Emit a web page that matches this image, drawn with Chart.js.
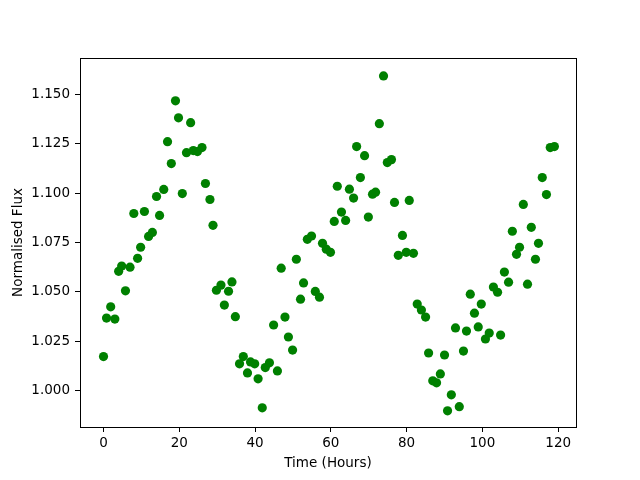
<!DOCTYPE html>
<html>
<head>
<meta charset="utf-8">
<script src="https://cdn.jsdelivr.net/npm/chart.js@4/dist/chart.umd.min.js"></script>
<style>
  html, body { margin: 0; padding: 0; background: #ffffff; }
  #wrap { width: 640px; height: 480px; position: relative; }
</style>
</head>
<body>
<div id="wrap"><canvas id="chart" width="640" height="480"></canvas></div>
<script>
// Valeurs
const timeHours = [
  0.0, 0.8, 1.9, 3.0, 4.0, 4.8, 5.8, 7.0, 8.0, 9.0,
  9.8, 10.8, 11.9, 12.9, 14.0, 14.8, 15.9, 16.9, 17.9, 19.0,
  19.8, 20.8, 21.9, 23.0, 23.7, 24.8, 26.0, 26.9, 28.1, 28.9,
  29.8, 31.0, 31.9, 33.0, 33.9, 34.8, 35.9, 36.9, 38.0, 38.8,
  39.9, 40.8, 41.9, 42.7, 43.8, 44.9, 45.9, 46.9, 47.9, 48.8,
  49.9, 50.9, 52.0, 52.8, 53.8, 54.9, 55.9, 57.0, 57.8, 58.8,
  59.9, 60.9, 61.7, 62.8, 63.9, 64.9, 66.0, 66.8, 67.8, 68.9,
  69.9, 71.0, 71.8, 72.8, 73.9, 74.9, 76.0, 76.8, 77.8, 78.9,
  79.9, 80.7, 81.8, 82.8, 83.9, 85.0, 85.8, 86.9, 87.9, 88.9,
  90.0, 90.8, 91.8, 92.9, 93.9, 95.0, 95.8, 96.8, 97.9, 98.9,
  99.7, 100.8, 101.8, 102.9, 104.0, 104.8, 105.8, 106.9, 107.9, 109.0,
  109.8, 110.8, 111.9, 112.9, 114.0, 114.8, 115.8, 116.9, 117.9, 119.0
];
const normFlux = [
  1.0172, 1.0367, 1.0424, 1.0362, 1.0604, 1.0631, 1.0505, 1.0625, 1.0897, 1.0670,
  1.0726, 1.0907, 1.0781, 1.0801, 1.0983, 1.0887, 1.1019, 1.1261, 1.1150, 1.1468,
  1.1382, 1.0998, 1.1205, 1.1357, 1.1216, 1.1211, 1.1231, 1.1049, 1.0968, 1.0837,
  1.0508, 1.0534, 1.0433, 1.0503, 1.0550, 1.0374, 1.0135, 1.0172, 1.0089, 1.0145,
  1.0135, 1.0059, 0.9912, 1.0116, 1.0140, 1.0332, 1.0099, 1.0620, 1.0372, 1.0271,
  1.0205, 1.0665, 1.0463, 1.0545, 1.0766, 1.0783, 1.0502, 1.0473, 1.0746, 1.0716,
  1.0700, 1.0857, 1.1035, 1.0904, 1.0862, 1.1020, 1.0975, 1.1236, 1.1079, 1.1190,
  1.0879, 1.0995, 1.1005, 1.1352, 1.1594, 1.1155, 1.1170, 1.0953, 1.0685, 1.0786,
  1.0700, 1.0963, 1.0695, 1.0438, 1.0408, 1.0372, 1.0190, 1.0049, 1.0039, 1.0084,
  1.0180, 0.9897, 0.9978, 1.0317, 0.9918, 1.0200, 1.0301, 1.0488, 1.0392, 1.0322,
  1.0438, 1.0261, 1.0291, 1.0524, 1.0498, 1.0281, 1.0600, 1.0549, 1.0807, 1.0690,
  1.0726, 1.0943, 1.0539, 1.0827, 1.0665, 1.0746, 1.1079, 1.0993, 1.1231, 1.1236
];
const xTicks = [0, 20, 40, 60, 80, 100, 120];
const yTicks = [1.000, 1.025, 1.050, 1.075, 1.100, 1.125, 1.150];

const points = timeHours.map((t, i) => ({ x: t, y: normFlux[i] }));

// Cadre complet autour de la zone de tracé (comme les "spines" matplotlib)
const frameBoxPlugin = {
    id: 'frameBox',
    afterDraw(chart) {
        const { ctx, chartArea } = chart;
        ctx.save();
        ctx.strokeStyle = '#000000';
        ctx.lineWidth = 1;
        ctx.strokeRect(Math.round(chartArea.left) + 0.5, Math.round(chartArea.top) + 0.5,
            Math.round(chartArea.right - chartArea.left), Math.round(chartArea.bottom - chartArea.top));
        ctx.restore();
    }
};

Chart.defaults.font.family = '"DejaVu Sans", sans-serif';
Chart.defaults.font.size = 13.5;
Chart.defaults.color = '#000000';

new Chart(document.getElementById('chart').getContext('2d'), {
    type: 'scatter',
    data: {
        datasets: [{
            data: points,
            backgroundColor: '#008000',
            borderColor: '#008000',
            borderWidth: 0,
            pointRadius: 4.6,
            pointHoverRadius: 4.6
        }]
    },
    plugins: [frameBoxPlugin],
    options: {
        responsive: false,
        animation: false,
        layout: { padding: { top: 58, right: 64, left: 0, bottom: 0 } },
        plugins: { legend: { display: false }, tooltip: { enabled: false } },
        scales: {
            x: {
                type: 'linear',
                min: -6.2,
                max: 124.7,
                afterFit(scale) { scale.height = 53; },
                afterBuildTicks(scale) { scale.ticks = xTicks.map(v => ({ value: v })); },
                ticks: { padding: 3, maxRotation: 0, callback: v => String(v) },
                grid: { display: true, drawOnChartArea: false, drawTicks: true, tickLength: 5, color: '#000000' },
                border: { display: false },
                title: { display: true, text: 'Time (Hours)', padding: { top: 0, bottom: 8 } }
            },
            y: {
                type: 'linear',
                min: 0.9815,
                max: 1.1685,
                afterFit(scale) { scale.width = 80; },
                afterBuildTicks(scale) { scale.ticks = yTicks.map(v => ({ value: v })); },
                ticks: { padding: 5, callback: v => v.toFixed(3) },
                grid: { display: true, drawOnChartArea: false, drawTicks: true, tickLength: 5, color: '#000000' },
                border: { display: false },
                title: { display: true, text: 'Normalised Flux', padding: { top: 10, bottom: 0 } }
            }
        }
    }
});
</script>
</body>
</html>
